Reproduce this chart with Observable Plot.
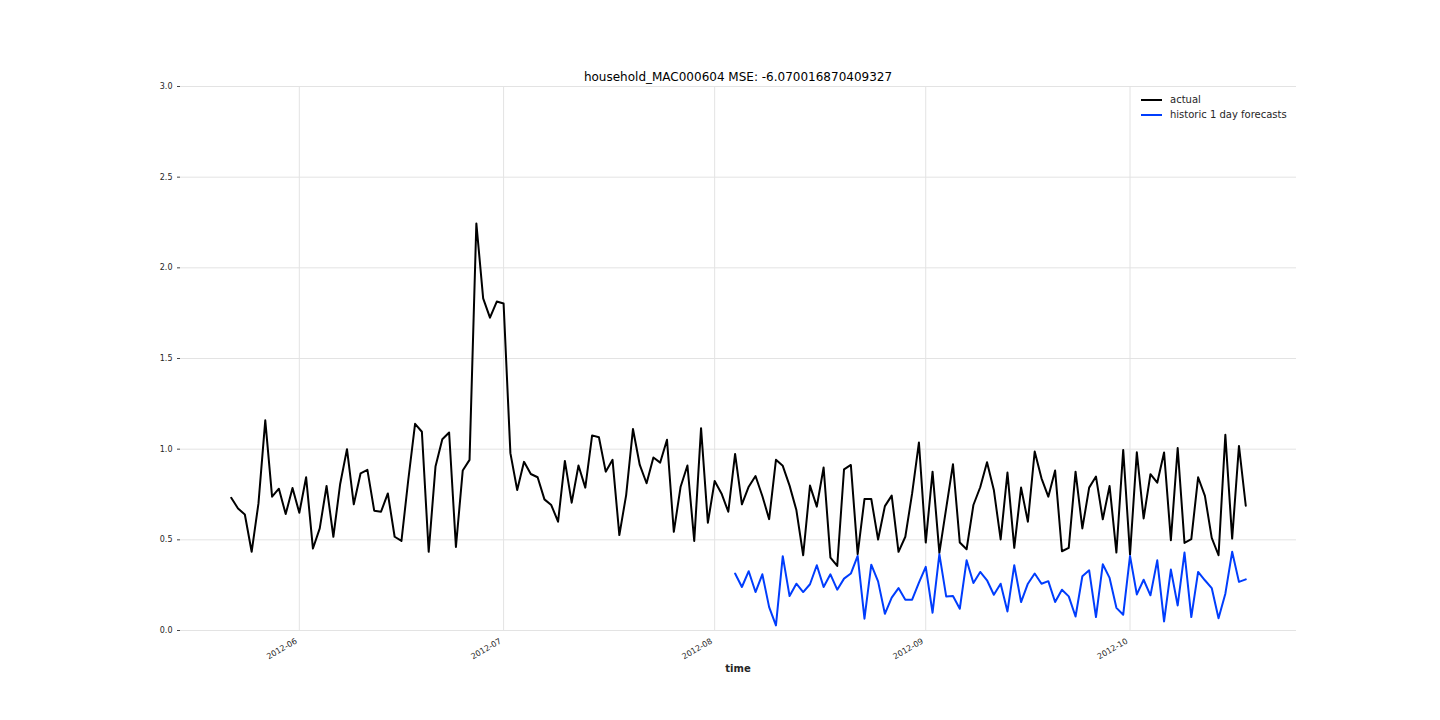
<!DOCTYPE html>
<html>
<head>
<meta charset="utf-8">
<script src="https://cdn.jsdelivr.net/npm/d3@7"></script>
<script src="https://cdn.jsdelivr.net/npm/@observablehq/plot@0.6"></script>
<style>
  html, body { margin: 0; padding: 0; background: #fff; }
  #wrap { position: relative; width: 1440px; height: 720px; font-family: "DejaVu Sans", sans-serif; }
  #chart { position: absolute; left: 0; top: 0; }
  #title { position: absolute; left: 180px; width: 1116px; top: 70px; text-align: center; font-size: 12px; color: #000; white-space: nowrap; }
  #xlabel { position: absolute; left: 180px; width: 1116px; top: 663px; text-align: center; font-size: 10px; font-weight: bold; color: #262626; }
  #legend { position: absolute; left: 1141px; top: 92px; font-size: 10px; color: #262626; }
  .item { display: flex; align-items: center; height: 15px; }
  .swatch { width: 21px; height: 0; border-top: 2px solid; margin-right: 8px; }
</style>
</head>
<body>
<div id="wrap">
  <div id="chart"></div>
  <div id="title"></div>
  <div id="xlabel"></div>
  <div id="legend"></div>
</div>
<script>
const titleText = "household_MAC000604 MSE: -6.070016870409327";
const xLabel = "time";
const seriesNames = ["actual", "historic 1 day forecasts"];
const seriesColors = ["#000000", "#003DFD"];

const actualStart = "2012-05-22";
const actualValues = [
  // May 22 - May 31
  0.732, 0.673, 0.640, 0.434, 0.701, 1.159, 0.738, 0.782, 0.642, 0.786,
  // June
  0.649, 0.845, 0.452, 0.563, 0.797, 0.517, 0.808, 1.000, 0.696, 0.867,
  0.886, 0.661, 0.655, 0.756, 0.517, 0.494, 0.830, 1.140, 1.096, 0.434,
  0.904, 1.055, 1.092, 0.461, 0.882, 0.941, 2.245, 1.832, 1.725, 1.814,
  // July
  1.803, 0.978, 0.775, 0.930, 0.863, 0.845, 0.723, 0.692, 0.600, 0.935,
  0.705, 0.910, 0.788, 1.076, 1.066, 0.876, 0.941, 0.526, 0.747, 1.111,
  0.913, 0.812, 0.954, 0.926, 1.052, 0.544, 0.793, 0.910, 0.494, 1.116, 0.594,
  // August
  0.825, 0.756, 0.655, 0.974, 0.696, 0.793, 0.852, 0.742, 0.614, 0.941,
  0.908, 0.799, 0.664, 0.415, 0.799, 0.683, 0.899, 0.402, 0.356, 0.889,
  0.913, 0.421, 0.725, 0.725, 0.502, 0.686, 0.744, 0.434, 0.517, 0.756, 1.037,
  // September
  0.485, 0.876, 0.428, 0.673, 0.917, 0.485, 0.448, 0.692, 0.790, 0.928,
  0.775, 0.502, 0.871, 0.456, 0.788, 0.600, 0.987, 0.839, 0.738, 0.882,
  0.437, 0.456, 0.876, 0.563, 0.788, 0.849, 0.613, 0.797, 0.430, 0.996,
  // October 1 - 18
  0.419, 0.983, 0.618, 0.862, 0.815, 0.982, 0.498, 1.006, 0.483, 0.504,
  0.845, 0.742, 0.511, 0.415, 1.079, 0.507, 1.018, 0.688
];

const forecastStart = "2012-08-04";
const forecastValues = [
  // Aug 4 - Aug 31
  0.314, 0.240, 0.327, 0.212, 0.310, 0.129, 0.028, 0.410, 0.190, 0.258,
  0.212, 0.255, 0.360, 0.240, 0.310, 0.225, 0.286, 0.314,
  0.411, 0.065, 0.363, 0.271, 0.092, 0.181, 0.234, 0.170, 0.170, 0.264,
  // September
  0.351, 0.098, 0.421, 0.188, 0.190, 0.120, 0.387, 0.262, 0.323, 0.277,
  0.197, 0.258, 0.105, 0.360, 0.157, 0.258, 0.314, 0.258, 0.272, 0.157,
  0.225, 0.188, 0.077, 0.299, 0.332, 0.074, 0.365, 0.290, 0.125, 0.087,
  // October 1 - 18
  0.411, 0.199, 0.280, 0.194, 0.387, 0.050, 0.336, 0.138, 0.430, 0.074,
  0.323, 0.277, 0.234, 0.068, 0.203, 0.434, 0.268, 0.282
];

const xTickDates = ["2012-06-01", "2012-07-01", "2012-08-01", "2012-09-01", "2012-10-01"];
const yTicks = [0, 0.5, 1.0, 1.5, 2.0, 2.5, 3.0];

function toSeries(start, values, name) {
  const s = new Date(start + "T00:00:00Z");
  return values.map((v, i) => ({ date: d3.utcDay.offset(s, i), value: v, series: name }));
}
const actual = toSeries(actualStart, actualValues, seriesNames[0]);
const forecast = toSeries(forecastStart, forecastValues, seriesNames[1]);

const ext = d3.extent(actual.concat(forecast), d => d.date);
const pad = (ext[1] - ext[0]) * 0.05;
const xDomain = [new Date(+ext[0] - pad), new Date(+ext[1] + pad)];
const xTicks = xTickDates.map(d => new Date(d + "T00:00:00Z"));

const chart = Plot.plot({
  width: 1440,
  height: 720,
  marginLeft: 180,
  marginRight: 144,
  marginTop: 86,
  marginBottom: 90,
  style: { fontFamily: "DejaVu Sans, sans-serif", background: "#fff", color: "#262626" },
  x: { type: "utc", domain: xDomain },
  y: { domain: [0, 3] },
  marks: [
    Plot.gridY(yTicks, { stroke: "#e3e3e3", strokeOpacity: 1, strokeWidth: 1 }),
    Plot.gridX(xTicks, { stroke: "#e3e3e3", strokeOpacity: 1, strokeWidth: 1 }),
    Plot.axisY(yTicks, { tickFormat: d3.format(".1f"), tickSize: 3, tickPadding: 5, fontSize: 8, label: null, stroke: "#444" }),
    Plot.axisX(xTicks, {
      tickFormat: d3.utcFormat("%Y-%m"), tickSize: 0, tickPadding: 10, tickRotate: -30,
      textAnchor: "end", fontSize: 8, dx: -3, label: null
    }),
    Plot.line(actual, { x: "date", y: "value", stroke: seriesColors[0], strokeWidth: 2 }),
    Plot.line(forecast, { x: "date", y: "value", stroke: seriesColors[1], strokeWidth: 2 })
  ]
});
document.getElementById("chart").appendChild(chart);
document.getElementById("title").textContent = titleText;
document.getElementById("xlabel").textContent = xLabel;
const legend = document.getElementById("legend");
seriesNames.forEach((n, i) => {
  const it = document.createElement("div");
  it.className = "item";
  const sw = document.createElement("div");
  sw.className = "swatch";
  sw.style.borderTopColor = seriesColors[i];
  const tx = document.createElement("span");
  tx.textContent = n;
  it.appendChild(sw); it.appendChild(tx);
  legend.appendChild(it);
});
</script>
</body>
</html>
